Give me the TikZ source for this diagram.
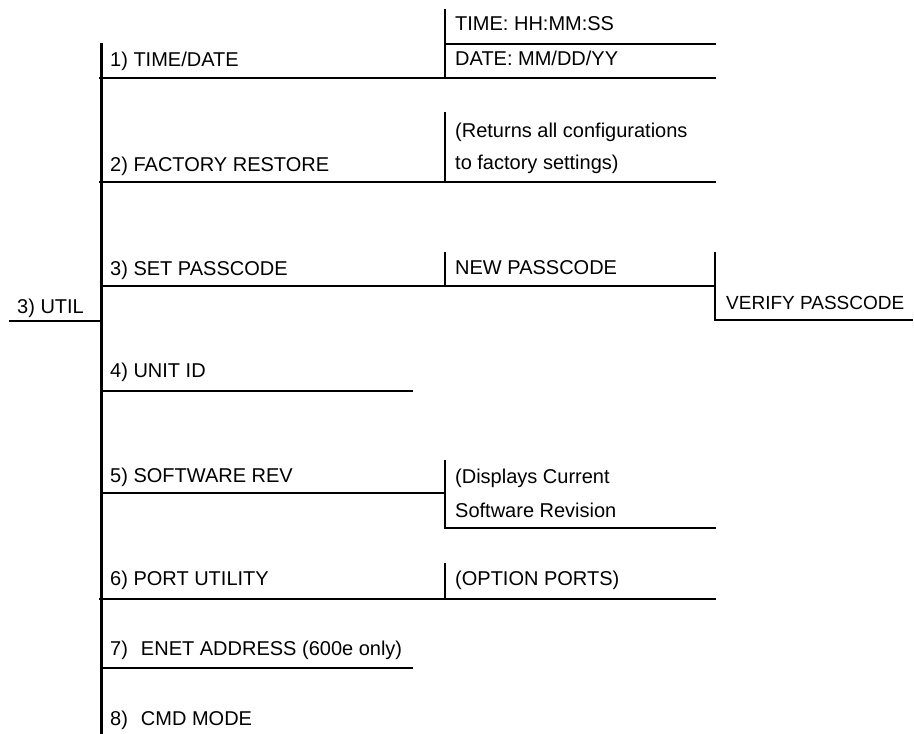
\documentclass[tikz,border=0pt]{standalone}
\usepackage{fontspec}
\setmainfont{Liberation Sans}
\begin{document}
\begin{tikzpicture}[x=1pt,y=-1pt]
\tikzset{
  lbl/.style={anchor=base west, inner sep=0pt, font=\fontsize{20}{22}\selectfont},
  ln/.style={line width=2pt},
  trunkline/.style={line width=3pt}
}
\useasboundingbox (0,0) rectangle (914,734);
% texts
\node[lbl] (util) at (17,313) {3) UTIL};
\node[lbl] (t1) at (110,66) {1) TIME/DATE};
\node[lbl] (time) at (455,30) {TIME: HH:MM:SS};
\node[lbl] (date) at (455,65) {DATE: MM/DD/YY};
\node[lbl] (t2) at (110,171) {2) FACTORY RESTORE};
\node[lbl] (ret1) at (455,137) {(Returns all configurations};
\node[lbl] (ret2) at (455,169) {to factory settings)};
\node[lbl] (t3) at (110,275) {3) SET PASSCODE};
\node[lbl] (newp) at (455,274) {NEW PASSCODE};
\node[lbl, font=\fontsize{19}{21}\selectfont] (verp) at (726,309) {VERIFY PASSCODE};
\node[lbl] (t4) at (110,377) {4) UNIT ID};
\node[lbl] (t5) at (110,482) {5) SOFTWARE REV};
\node[lbl] (disp1) at (455,483) {(Displays Current};
\node[lbl] (disp2) at (455,517) {Software Revision};
\node[lbl] (t6) at (110,585) {6) PORT UTILITY};
\node[lbl] (opt) at (455,585) {(OPTION PORTS)};
\node[lbl] (t7) at (110,655) {7)\hspace{13pt}ENET ADDRESS (600e only)};
\node[lbl] (t8) at (110,725) {8)\hspace{13pt}CMD MODE};
% coordinates
\coordinate (trT) at (101,43);
\coordinate (trB) at (101,734);
\coordinate (uL) at (9,321);   \coordinate (uR) at (101,321);
\coordinate (h1L) at (99,78);  \coordinate (h1R) at (716,78);
\coordinate (v1T) at (445,9);  \coordinate (v1B) at (445,78);
\coordinate (m1L) at (445,44); \coordinate (m1R) at (716,44);
\coordinate (h2L) at (99,182); \coordinate (h2R) at (716,182);
\coordinate (v2T) at (445,112);\coordinate (v2B) at (445,182);
\coordinate (h3L) at (101,286);\coordinate (h3R) at (715,286);
\coordinate (v3T) at (445,252);\coordinate (v3B) at (445,286);
\coordinate (v4T) at (715,252);\coordinate (v4B) at (715,320);
\coordinate (h4R) at (913,320);
\coordinate (h5L) at (101,391);\coordinate (h5R) at (413,391);
\coordinate (h6L) at (101,493);\coordinate (h6R) at (445,493);
\coordinate (v6T) at (445,460);\coordinate (v6B) at (445,528);
\coordinate (h6bR) at (716,528);
\coordinate (h7L) at (99,599); \coordinate (h7R) at (716,599);
\coordinate (v7T) at (445,563);\coordinate (v7B) at (445,599);
\coordinate (h8L) at (101,668);\coordinate (h8R) at (413,668);
% lines
\draw[trunkline] (trT) -- (trB);
\draw[ln] (uL) -- (uR);
\draw[ln] (h1L) -- (h1R);
\draw[ln] (v1T) -- (v1B);
\draw[ln] (m1L) -- (m1R);
\draw[ln] (h2L) -- (h2R);
\draw[ln] (v2T) -- (v2B);
\draw[ln] (h3L) -- (h3R);
\draw[ln] (v3T) -- (v3B);
\draw[ln] (v4T) -- (v4B) -- (h4R);
\draw[ln] (h5L) -- (h5R);
\draw[ln] (h6L) -- (h6R);
\draw[ln] (v6T) -- (v6B) -- (h6bR);
\draw[ln] (h7L) -- (h7R);
\draw[ln] (v7T) -- (v7B);
\draw[ln] (h8L) -- (h8R);
\end{tikzpicture}
\end{document}
